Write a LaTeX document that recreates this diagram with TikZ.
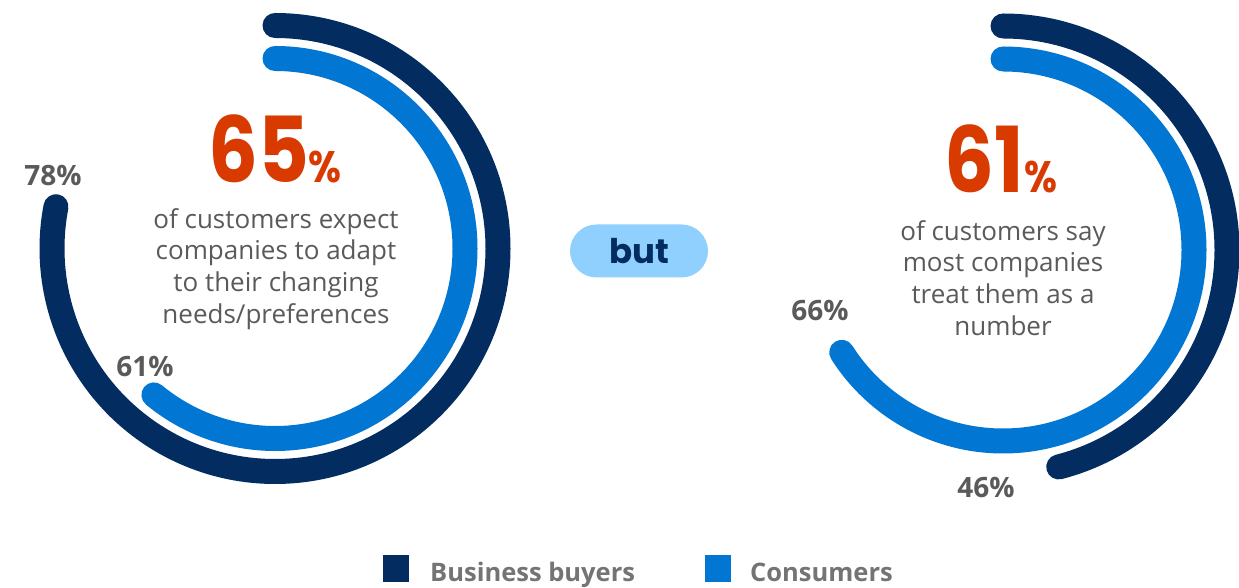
\documentclass[tikz,border=0pt]{standalone}
\usepackage{fontspec}
\setmainfont{Open Sans}
\newfontfamily\pop{Poppins}[FakeStretch=0.86]
\newfontfamily\popw{Poppins}
\definecolor{navy}{HTML}{032D60}
\definecolor{sfblue}{HTML}{0176D3}
\definecolor{hot}{HTML}{D83A00}
\definecolor{pill}{HTML}{90D0FE}
\definecolor{txtgray}{HTML}{5A5A5A}
\definecolor{leggray}{HTML}{747474}
\tikzset{
  ringdark/.style={draw=navy, line width=25pt, line cap=round},
  ringblue/.style={draw=sfblue, line width=25pt, line cap=round},
  pct/.style={font=\fontsize{28}{28}\selectfont\bfseries, text=txtgray, inner sep=0pt},
  bignum/.style={font=\fontsize{91}{91}\selectfont\pop\bfseries, text=hot, inner sep=0pt, anchor=base},
  body/.style={font=\fontsize{26}{31.7}\selectfont, text=txtgray, align=center, inner sep=0pt},
  legsq/.style={minimum width=26pt, minimum height=27pt, inner sep=0pt},
  legtxt/.style={font=\fontsize{25.5}{25.5}\selectfont\bfseries, text=leggray, inner sep=0pt, anchor=base west},
}
\begin{document}
\begin{tikzpicture}[x=1pt,y=1pt]
\useasboundingbox[fill=white] (0,0) rectangle (1239,588);
% centres
\coordinate (L) at (275,339.5);
\coordinate (R) at (1003,338);
% left rings
\draw[ringdark] ([shift={(90:223pt)}]L) arc[start angle=90, end angle=-190.8, radius=223pt];
\draw[ringblue] ([shift={(90:190pt)}]L) arc[start angle=90, end angle=-129.6, radius=190pt];
% right rings
\draw[ringdark] ([shift={(90:224pt)}]R) arc[start angle=90, end angle=-75.6, radius=224pt];
\draw[ringblue] ([shift={(90:191pt)}]R) arc[start angle=90, end angle=-147.6, radius=191pt];
% big numbers
\node[bignum] (n65) at (275,405) {65\fontsize{44}{44}\selectfont\%};
\node[bignum] (n61) at (1001,395) {61\fontsize{44}{44}\selectfont\%};
% body texts
\node[body] (tl) at (276,319) {of customers expect\\companies to adapt\\to their changing\\needs/preferences};
\node[body] (tr) at (1003,310) {of customers say\\most companies\\treat them as a\\number};
% percent labels
\node[pct] (p78) at (53,412) {78\%};
\node[pct] (p61) at (145,221) {61\%};
\node[pct] (p66) at (820,277) {66\%};
\node[pct] (p46) at (986,100) {46\%};
% but pill
\node[fill=pill, rounded corners=26.5pt, minimum width=138pt, minimum height=53pt, inner sep=0pt,
      font=\fontsize{34}{34}\selectfont\popw\bfseries, text=navy] (but) at (639,337) {but};
% legend
\node[legsq, fill=navy] (sq1) at (396,19.5) {};
\node[legtxt] (lg1) at (430,6) {Business buyers};
\node[legsq, fill=sfblue] (sq2) at (718,19.5) {};
\node[legtxt] (lg2) at (750,6) {Consumers};
\end{tikzpicture}
\end{document}
